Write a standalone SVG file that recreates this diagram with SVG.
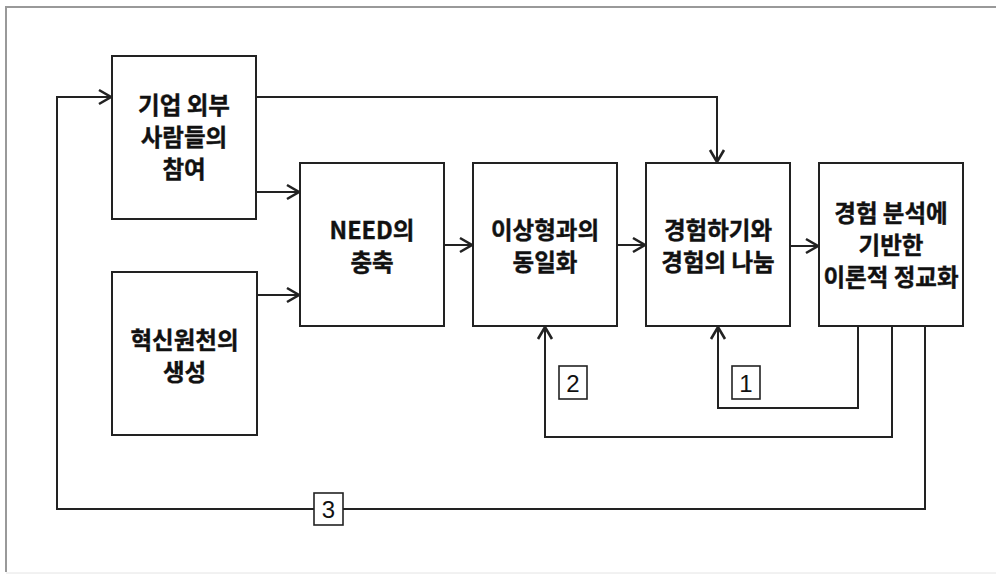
<svg xmlns="http://www.w3.org/2000/svg" width="996" height="574" viewBox="0 0 996 574">
<style>
.box{fill:#fff;stroke:#222;stroke-width:2}
.t{font-family:"Noto Sans CJK KR","Noto Sans",sans-serif;font-weight:bold;font-size:23.5px;fill:#111;stroke:#111;stroke-width:0.4;text-anchor:middle}
.c{fill:none;stroke:#222;stroke-width:2}
.lb{fill:#fff;stroke:#222;stroke-width:1.6}
.n{font-family:"Liberation Sans",Arial,sans-serif;font-size:24px;fill:#111;text-anchor:middle}
</style>
<defs>
<marker id="ah" markerUnits="userSpaceOnUse" markerWidth="20" markerHeight="20" viewBox="-14 -10 16 20" refX="0" refY="0" orient="auto">
<path d="M-12,-7 L0,0 L-12,7" fill="none" stroke="#222" stroke-width="2.6"/>
</marker>
</defs>
<rect x="0" y="0" width="996" height="574" fill="#fff"/>
<path d="M996,7 H6 V572" fill="none" stroke="#999" stroke-width="2"/>
<path d="M6,573 H996" fill="none" stroke="#e4e4e4" stroke-width="1"/>
<g id="connectors">
<path class="c" d="M925,326 V509 H57 V97 H111" marker-end="url(#ah)"/>
<path class="c" d="M256,97 H717 V162" marker-end="url(#ah)"/>
<path class="c" d="M256,192 H299" marker-end="url(#ah)"/>
<path class="c" d="M257,295 H299" marker-end="url(#ah)"/>
<path class="c" d="M444,245 H472" marker-end="url(#ah)"/>
<path class="c" d="M617,245 H645" marker-end="url(#ah)"/>
<path class="c" d="M790,246 H818" marker-end="url(#ah)"/>
<path class="c" d="M858,326 V408 H718 V327" marker-end="url(#ah)"/>
<path class="c" d="M892,326 V437 H545 V327" marker-end="url(#ah)"/>
<g id="label1"><rect class="lb" x="732" y="366" width="28" height="33"/><text class="n" x="746" y="392">1</text></g>
<g id="label2"><rect class="lb" x="559" y="366" width="28" height="33"/><text class="n" x="573" y="392">2</text></g>
<g id="label3"><rect class="lb" x="314" y="493" width="29" height="32"/><text class="n" x="328.5" y="518">3</text></g>
</g>
<g id="nodeA">
<rect class="box" x="112" y="56" width="144" height="163"/>
<text class="t" x="184" y="114">기업 외부</text>
<text class="t" x="184" y="146">사람들의</text>
<text class="t" x="184" y="178">참여</text>
</g>
<g id="nodeF">
<rect class="box" x="112" y="272" width="145" height="163"/>
<text class="t" x="184.5" y="349">혁신원천의</text>
<text class="t" x="184.5" y="381">생성</text>
</g>
<g id="nodeB">
<rect class="box" x="300" y="163" width="144" height="163"/>
<text class="t" x="372" y="239">NEED의</text>
<text class="t" x="372" y="271">충축</text>
</g>
<g id="nodeC">
<rect class="box" x="473" y="163" width="144" height="163"/>
<text class="t" x="545" y="239">이상형과의</text>
<text class="t" x="545" y="271">동일화</text>
</g>
<g id="nodeD">
<rect class="box" x="646" y="163" width="144" height="163"/>
<text class="t" x="718" y="239">경험하기와</text>
<text class="t" x="718" y="271">경험의 나눔</text>
</g>
<g id="nodeE">
<rect class="box" x="819" y="163" width="144" height="163"/>
<text class="t" x="891" y="222">경험 분석에</text>
<text class="t" x="891" y="254">기반한</text>
<text class="t" x="891" y="286">이론적 정교화</text>
</g>
</svg>
